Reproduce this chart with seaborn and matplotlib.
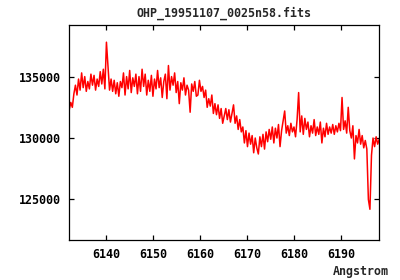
import numpy as np
import pandas as pd
import matplotlib
matplotlib.use("Agg")
import matplotlib.pyplot as plt
import seaborn as sns

# FITS-like spectral header
crval1 = 6132.15   # starting wavelength (Angstrom)
cdelt1 = 0.33      # step (Angstrom)

flux = [
    132300, 132900, 132500, 133600, 134300, 133500, 134800, 133900, 135300, 134100,
    135000, 133800, 134600, 134000, 135200, 134300, 135100, 133900, 134800, 134200,
    135400, 134400, 135600, 134000, 137800, 135800, 133900, 134800, 133800, 134700,
    133600, 134500, 133400, 134600, 134100, 135300, 133500, 135000, 134000, 135500,
    133700, 134900, 134200, 135200, 133600, 135000, 133800, 135600, 134200, 135200,
    133500, 134700, 133800, 135100, 133400, 134800, 134000, 135500, 134100, 134900,
    133300, 134600, 135200, 133200, 135900, 133900, 135000, 134300, 135300, 133700,
    134600, 132800, 134500, 133900, 134900, 133500, 134300, 133900, 132100, 134400,
    133800, 134600, 133400, 133500, 134700, 133800, 134200, 133300, 133900, 132500,
    133200, 132600, 133500, 132000, 132800, 131900, 132700, 131600, 132400, 131200,
    131800, 132400, 131500, 132300, 131300, 132000, 132700, 131200, 131800, 130700,
    131500, 130500, 130900, 129600, 130600, 129300, 130400, 129500, 130200, 128800,
    130000, 129200, 128700, 130100, 129300, 130300, 129100, 130500, 129700, 130700,
    129900, 130900, 129600, 130800, 130000, 131100, 129300, 130600, 131400, 132200,
    130400, 131000, 130200, 131200, 130500, 130900, 130100, 131500, 133700, 130500,
    131800, 130300, 131600, 130700, 131300, 130100, 131000, 130400, 131500, 130200,
    130900, 130300, 131300, 129600, 130800, 130100, 131200, 130300, 130900, 130400,
    131100, 130300, 131000, 130500, 131200, 130600, 133300, 130700, 131400, 130400,
    132500, 130600, 130000, 131000, 128300, 130200, 129600, 130700, 129500, 130200,
    129200, 129800, 129100, 125000, 124200, 128600, 130000, 129300, 130100, 129500,
    129900,
]

xticks = [6140, 6150, 6160, 6170, 6180, 6190]
yticks = [125000, 130000, 135000]
title = "OHP_19951107_0025n58.fits"
xlabel = "Angstrom"

wave = crval1 + cdelt1 * np.arange(len(flux))
df = pd.DataFrame({"wave": wave, "flux": flux})

sns.set_theme(style="ticks")
plt.rcParams["font.family"] = ["DejaVu Sans Mono"]
plt.rcParams["font.weight"] = "bold"

fig = plt.figure(figsize=(4.0, 2.8), dpi=100)
ax = fig.add_axes([69/400, 1-240/280, 310/400, 215/280])
sns.lineplot(data=df, x="wave", y="flux", ax=ax, color="#ff0000",
             linewidth=1.1, estimator=None, sort=False)

ax.set_xlim(6132.1, 6198.1)
ax.set_ylim(121700, 139200)
ax.set_xticks(xticks)
ax.set_yticks(yticks)
ax.set_xticklabels([str(t) for t in xticks])
ax.set_yticklabels([str(t) for t in yticks])
ax.set_xlabel("")
ax.set_ylabel("")
for s in ax.spines.values():
    s.set_visible(True)
    s.set_linewidth(0.9)
    s.set_color("black")
ax.tick_params(direction="in", length=3.5, width=0.9, top=True, right=True,
               labelsize=8.4, colors="black")
ax.tick_params(axis="x", pad=6)
ax.tick_params(axis="y", pad=5.5)
for lab in ax.get_xticklabels() + ax.get_yticklabels():
    lab.set_fontweight("bold")
ax.set_title(title, fontsize=8.4, fontweight="bold", pad=6)
fig.text(389/400, 1-271/280, xlabel, ha="right", va="center",
         fontsize=8.4, fontweight="bold")
ax.grid(False)
fig.savefig("out.png", dpi=100, facecolor="white")
